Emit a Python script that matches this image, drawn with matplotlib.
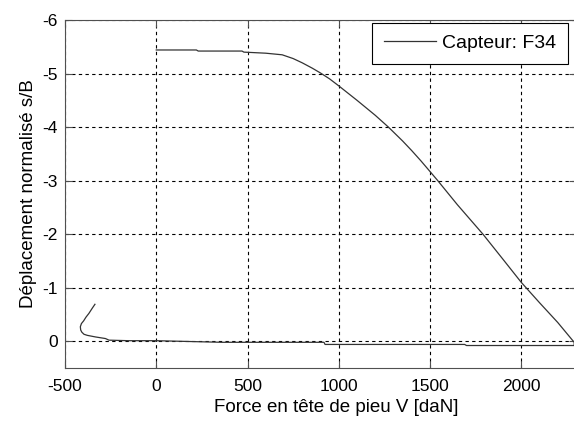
import matplotlib
matplotlib.use('Agg')
import matplotlib.pyplot as plt

plt.rcParams['font.family'] = ['Liberation Sans', 'DejaVu Sans']

# force (daN) et déplacement normalisé
force = [-336, -350, -369, -385, -398, -410, -416, -414, -408, -396, -378, -333, -278, -259, -150, 0,
         360, 919, 925, 1690, 1700, 2290, 2290,
         2200, 2100, 2000, 1900, 1790, 1650, 1540, 1500, 1450, 1400, 1350, 1272, 1200, 1100,
         1000, 950, 900, 855, 800, 750, 690, 600, 480, 470, 230, 220, 0]
depl = [-0.69, -0.62, -0.52, -0.45, -0.38, -0.33, -0.27, -0.21, -0.17, -0.13, -0.11, -0.08, -0.05, -0.02, -0.01, -0.01,
        0.02, 0.02, 0.06, 0.06, 0.08, 0.08, 0.02,
        -0.35, -0.72, -1.10, -1.53, -2.0, -2.55, -3.01, -3.17, -3.37, -3.56, -3.74, -4.0, -4.22, -4.5,
        -4.77, -4.9, -5.01, -5.1, -5.2, -5.28, -5.35, -5.38, -5.40, -5.42, -5.42, -5.44, -5.44]

xticks = [-500, 0, 500, 1000, 1500, 2000]
yticks = [-6, -5, -4, -3, -2, -1, 0]

fig = plt.figure(figsize=(5.74, 4.29), dpi=100)
# l'axe dépasse un peu à droite (figure rognée)
ax = fig.add_axes([65 / 574, 61 / 429, 511 / 574, 348 / 429])

ax.plot(force, depl, color='#333333', linewidth=0.9, label='Capteur: F34')

ax.set_xlim(-500, 2300)
ax.set_ylim(0.5, -6)
ax.set_xticks(xticks)
ax.set_yticks(yticks)
ax.set_xticklabels([str(v) for v in xticks])
ax.set_yticklabels([str(v) for v in yticks])
ax.grid(True, color='black', linestyle=(0, (3, 3)), linewidth=0.8)
ax.tick_params(direction='in', top=True, right=True, length=5, labelsize=12.5,
               color='#505050')
ax.tick_params(axis='x', pad=8)
ax.tick_params(axis='y', pad=5)
for s in ax.spines.values():
    s.set_color('#505050')

ax.set_xlabel('Force en tête de pieu V [daN]', fontsize=13.5, va='center')
ax.xaxis.set_label_coords((336 - 65) / 511, -(408 - 368) / 348)
ax.set_ylabel('Déplacement normalisé s/B', fontsize=13.5, labelpad=4)

leg = ax.legend(loc='upper right', bbox_to_anchor=(568 / 574, 1 - 23 / 429),
                bbox_transform=fig.transFigure, fontsize=14, fancybox=False,
                framealpha=1, edgecolor='black', handlelength=2.7,
                borderpad=0.6, borderaxespad=0, handletextpad=0.3)
leg.get_frame().set_linewidth(0.8)

plt.savefig('out.png', dpi=100)
